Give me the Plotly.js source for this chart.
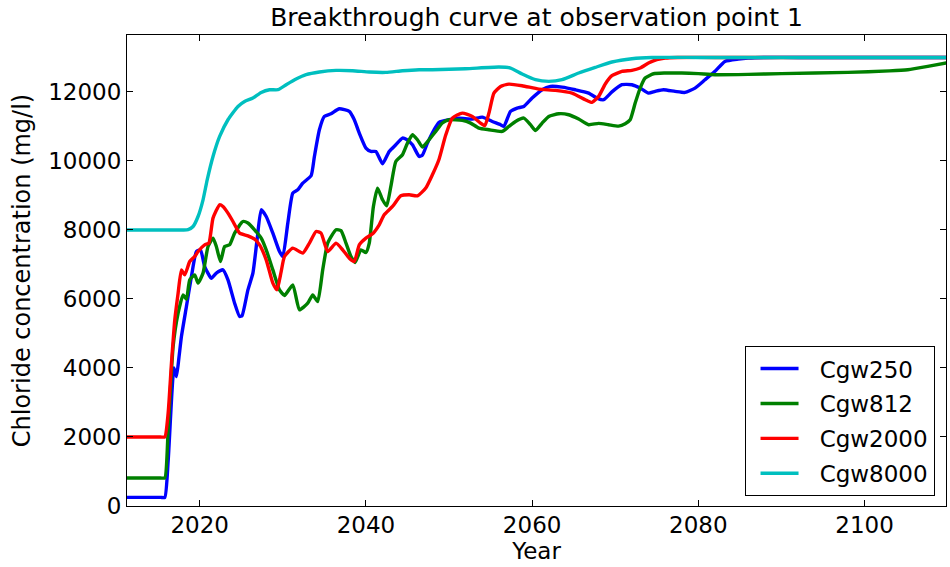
<!DOCTYPE html>
<html>
<head>
<meta charset="utf-8">
<script src="https://cdn.plot.ly/plotly-3.0.1.min.js"></script>
<style>html,body{margin:0;padding:0;background:#fff;}#chart{width:950px;height:567px;}</style>
</head>
<body>
<div id="chart"></div>
<script>
// Cgw250
const yearsCgw250 = [2011.25, 2013.5, 2015.3, 2015.8, 2016.2, 2016.9, 2017.2, 2017.5, 2017.8, 2018.4, 2019.0, 2019.6, 2020.1, 2020.6, 2021.4, 2022.0, 2022.8, 2023.4, 2024.2, 2024.8, 2025.1, 2025.8, 2026.4, 2026.9, 2027.4, 2028.0, 2028.8, 2029.6, 2030.0, 2030.6, 2031.2, 2031.8, 2032.4, 2033.4, 2033.8, 2034.4, 2035.0, 2035.8, 2036.8, 2038.0, 2038.6, 2039.2, 2040.0, 2040.6, 2041.2, 2042.0, 2042.8, 2043.6, 2044.4, 2044.9, 2045.6, 2046.4, 2046.8, 2047.4, 2048.2, 2048.8, 2050.0, 2051.2, 2052.8, 2054.0, 2055.2, 2056.2, 2056.6, 2057.4, 2058.2, 2059.0, 2060.0, 2061.2, 2062.2, 2063.6, 2065.2, 2066.8, 2067.8, 2068.6, 2069.6, 2070.8, 2072.0, 2073.0, 2074.0, 2074.8, 2075.8, 2077.2, 2078.4, 2079.6, 2080.8, 2082.0, 2083.2, 2084.8, 2086.0, 2088.0, 2092.0, 2100.0, 2110];
const valuesCgw250 = [250, 250, 250, 250, 1300, 4000, 3750, 4300, 4910, 5780, 6650, 7375, 7420, 6940, 6600, 6750, 6844, 6554, 5878, 5490, 5520, 6264, 6748, 7714, 8584, 8390, 7908, 7375, 7230, 8198, 9068, 9164, 9358, 9570, 10130, 10904, 11290, 11368, 11513, 11435, 11194, 10808, 10373, 10275, 10275, 9918, 10275, 10469, 10663, 10620, 10469, 10130, 10170, 10517, 10904, 11120, 11194, 11240, 11212, 11270, 11144, 11050, 11000, 11435, 11532, 11580, 11822, 12064, 12160, 12140, 12064, 11967, 11822, 11774, 12000, 12209, 12209, 12112, 11967, 12016, 12064, 12016, 11986, 12112, 12354, 12600, 12885, 12953, 12983, 13000, 13000, 13000, 13000];

// Cgw812
const yearsCgw812 = [2011.25, 2013.5, 2015.3, 2015.8, 2016.2, 2016.8, 2017.4, 2018.0, 2018.4, 2018.8, 2019.4, 2019.8, 2020.4, 2021.0, 2021.6, 2022.0, 2022.5, 2023.0, 2023.6, 2024.2, 2025.2, 2025.8, 2026.6, 2027.4, 2028.0, 2028.8, 2029.6, 2030.2, 2031.2, 2032.0, 2033.0, 2033.6, 2034.2, 2034.8, 2035.4, 2036.4, 2037.0, 2037.6, 2038.2, 2038.7, 2039.4, 2040.0, 2040.4, 2040.9, 2041.4, 2042.0, 2042.5, 2043.0, 2043.6, 2044.4, 2045.0, 2045.6, 2046.2, 2046.8, 2047.6, 2048.4, 2049.2, 2050.0, 2051.6, 2052.6, 2053.6, 2054.8, 2056.4, 2057.2, 2058.0, 2059.0, 2059.8, 2060.4, 2061.2, 2062.0, 2063.2, 2064.4, 2065.6, 2066.8, 2068.0, 2069.2, 2070.4, 2071.2, 2071.8, 2072.4, 2073.0, 2073.6, 2074.6, 2076.0, 2078.0, 2080.0, 2082.0, 2086.0, 2090.0, 2098.0, 2103.0, 2105.2, 2107.6, 2110];
const valuesCgw812 = [812, 812, 812, 812, 2204, 4620, 5588, 6119, 5990, 6554, 6699, 6458, 6748, 7520, 7763, 7520, 7085, 7520, 7569, 7908, 8245, 8200, 8004, 7763, 7424, 6844, 6264, 6100, 6409, 5684, 5878, 6119, 5925, 6844, 7618, 8004, 7980, 7618, 7230, 7056, 7424, 7346, 7618, 8680, 9213, 8874, 8700, 9261, 9986, 10180, 10517, 10760, 10614, 10403, 10614, 10856, 11100, 11194, 11174, 11097, 10952, 10904, 10856, 11000, 11144, 11242, 11050, 10883, 11097, 11290, 11368, 11339, 11213, 11050, 11090, 11050, 11010, 11080, 11194, 11677, 12112, 12402, 12527, 12548, 12548, 12530, 12500, 12510, 12530, 12567, 12610, 12644, 12740, 12850];

// Cgw2000
const yearsCgw2000 = [2011.25, 2013.5, 2015.3, 2015.8, 2016.2, 2016.6, 2017.0, 2017.4, 2017.8, 2018.2, 2018.8, 2019.4, 2019.8, 2020.6, 2021.1, 2021.6, 2022.4, 2022.8, 2023.4, 2024.0, 2024.8, 2025.8, 2026.6, 2027.2, 2028.0, 2028.8, 2029.3, 2029.8, 2030.2, 2031.2, 2032.4, 2033.2, 2034.0, 2034.6, 2035.4, 2036.4, 2037.2, 2038.0, 2038.6, 2039.2, 2040.0, 2040.8, 2041.6, 2042.2, 2043.2, 2044.2, 2045.2, 2046.2, 2047.2, 2048.0, 2048.8, 2049.6, 2050.4, 2051.6, 2052.8, 2053.8, 2054.3, 2054.8, 2055.4, 2056.2, 2057.2, 2058.8, 2060.8, 2062.8, 2064.8, 2066.4, 2067.2, 2068.0, 2068.8, 2069.6, 2070.8, 2072.0, 2073.0, 2074.0, 2075.0, 2076.0, 2077.5, 2082.0, 2095.0, 2110];
const valuesCgw2000 = [2000, 2000, 2000, 2000, 2688, 4138, 5394, 6168, 6844, 6699, 7085, 7230, 7375, 7569, 7617, 8343, 8729, 8680, 8487, 8245, 7908, 7830, 7734, 7569, 7134, 6458, 6264, 6795, 7230, 7473, 7328, 7618, 7955, 7908, 7375, 7618, 7424, 7182, 7085, 7569, 7763, 7888, 8149, 8439, 8680, 8990, 9019, 8990, 9213, 9599, 10050, 10750, 11242, 11387, 11290, 11097, 11020, 11387, 11967, 12160, 12227, 12180, 12083, 12044, 11967, 11774, 11696, 11870, 12230, 12470, 12595, 12624, 12693, 12838, 12934, 12983, 13000, 13000, 13000, 13000];

// Cgw8000
const yearsCgw8000 = [2011.25, 2014.0, 2016.5, 2018.0, 2018.6, 2019.2, 2019.8, 2020.4, 2020.9, 2021.6, 2022.4, 2023.4, 2024.6, 2025.4, 2026.4, 2027.4, 2028.4, 2029.4, 2030.4, 2031.6, 2032.8, 2034.4, 2036.4, 2038.4, 2040.4, 2042.4, 2044.4, 2046.4, 2048.0, 2052.0, 2056.0, 2057.4, 2058.8, 2060.4, 2062.0, 2063.6, 2065.6, 2067.6, 2069.6, 2072.0, 2074.4, 2080.0, 2095.0, 2110];
const valuesCgw8000 = [8000, 8000, 8000, 8000, 8010, 8100, 8390, 8874, 9454, 10130, 10710, 11194, 11580, 11725, 11822, 11986, 12064, 12064, 12209, 12374, 12500, 12577, 12624, 12615, 12577, 12567, 12615, 12644, 12644, 12673, 12722, 12693, 12519, 12354, 12305, 12354, 12548, 12712, 12867, 12963, 13000, 13000, 13000, 13000];

const seriesNames = ["Cgw250", "Cgw812", "Cgw2000", "Cgw8000"];
const seriesColors = ["#0000ff", "#008000", "#ff0000", "#00bfbf"];
const xTickValues = [2020, 2040, 2060, 2080, 2100];
const yTickValues = [0, 2000, 4000, 6000, 8000, 10000, 12000];

const xs = [yearsCgw250, yearsCgw812, yearsCgw2000, yearsCgw8000];
const ys = [valuesCgw250, valuesCgw812, valuesCgw2000, valuesCgw8000];

const traces = seriesNames.map((n, i) => ({
  type: "scatter", mode: "lines", name: "\u2002\u2009" + n,
  x: xs[i], y: ys[i],
  line: {color: seriesColors[i], width: 3.4, shape: "spline", smoothing: 0.5},
  legendgroup: n
}));

const fontFam = "DejaVu Sans, sans-serif";
const layout = {
  width: 950, height: 567,
  margin: {l: 127, r: 4, t: 35, b: 61},
  paper_bgcolor: "#fff", plot_bgcolor: "#fff",
  font: {family: fontFam, color: "#000", size: 23},
  title: {text: "Breakthrough curve at observation point 1", x: 0.5, xref: "paper", xanchor: "center",
          y: 0.969, yanchor: "middle", font: {size: 25, family: fontFam, color: "#000"}},
  xaxis: {
    range: [2011.25, 2109.8], tickvals: xTickValues, ticks: "inside", ticklen: 6, tickcolor: "#000",
    showline: true, mirror: "allticks", linecolor: "#000", linewidth: 1, showgrid: false, zeroline: false,
    ticklabelstandoff: -2,
    tickfont: {size: 23, family: fontFam}, title: {text: "Year", font: {size: 23, family: fontFam}, standoff: 0}
  },
  yaxis: {
    range: [0, 13650], tickvals: yTickValues, tickformat: "d", ticks: "inside", ticklen: 6, tickcolor: "#000",
    showline: true, mirror: "allticks", linecolor: "#000", linewidth: 1, showgrid: false, zeroline: false,
    tickfont: {size: 23, family: fontFam}, title: {text: "Chloride concentration (mg/l)", font: {size: 24, family: fontFam}, standoff: 10}
  },
  legend: {
    x: 0.986, y: 0.021, xanchor: "right", yanchor: "bottom",
    bgcolor: "#fff", bordercolor: "#000", borderwidth: 1, indentation: 10,
    font: {size: 23, family: fontFam}, traceorder: "grouped", tracegroupgap: 2, itemwidth: 38
  },
  showlegend: true
};

Plotly.newPlot("chart", traces, layout, {displayModeBar: false, staticPlot: true});
</script>
</body>
</html>
